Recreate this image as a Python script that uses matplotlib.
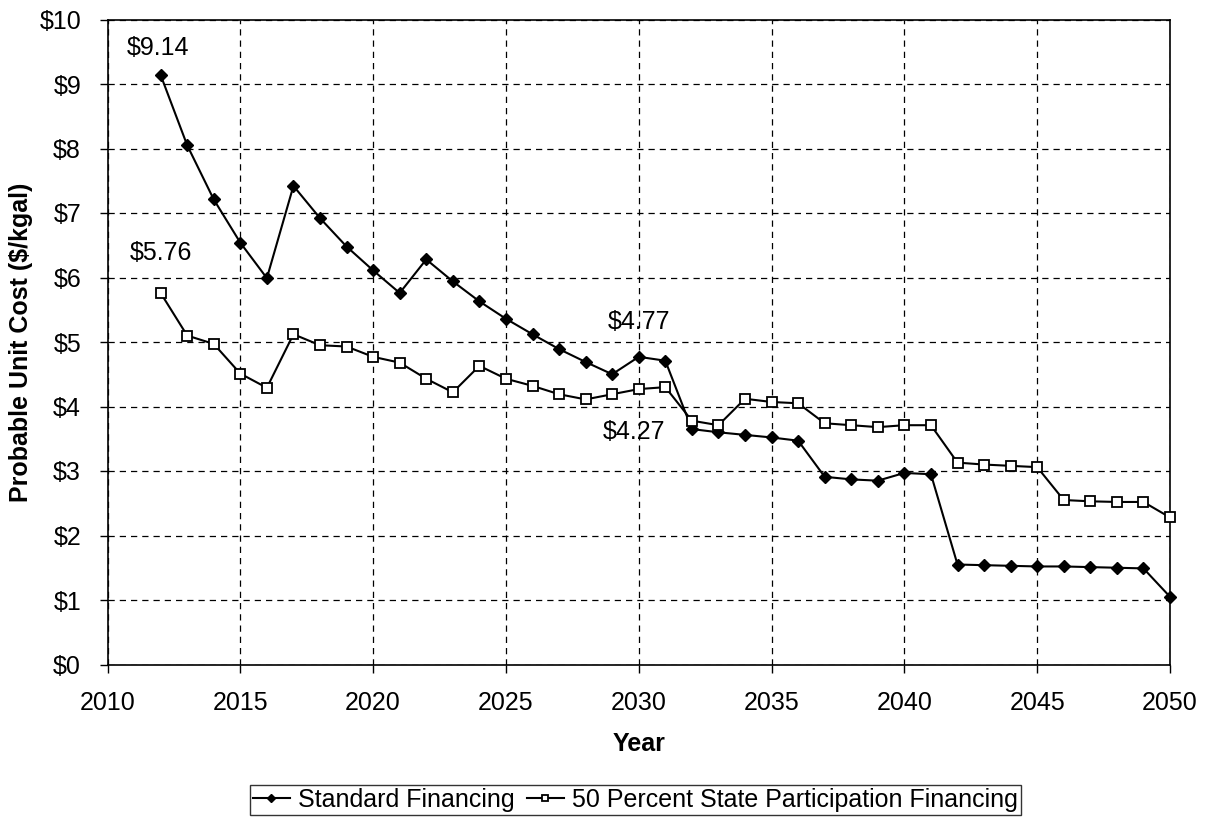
import matplotlib
matplotlib.use("Agg")
import matplotlib.pyplot as plt
from matplotlib.ticker import FuncFormatter

plt.rcParams['font.family'] = ['Liberation Sans', 'DejaVu Sans']

years = list(range(2012, 2051))
standard = [9.14, 8.05, 7.21, 6.54, 5.99, 7.42, 6.92, 6.48, 6.11, 5.76,
            6.28, 5.94, 5.63, 5.36, 5.12, 4.89, 4.69, 4.50, 4.77, 4.71,
            3.65, 3.60, 3.56, 3.52, 3.47, 2.91, 2.87, 2.85, 2.97, 2.95,
            1.55, 1.54, 1.53, 1.52, 1.52, 1.51, 1.50, 1.49, 1.05]
state50 = [5.76, 5.10, 4.97, 4.51, 4.29, 5.12, 4.95, 4.93, 4.77, 4.68,
           4.43, 4.22, 4.63, 4.43, 4.32, 4.19, 4.11, 4.19, 4.27, 4.30,
           3.78, 3.71, 4.12, 4.07, 4.05, 3.74, 3.71, 3.68, 3.71, 3.71,
           3.13, 3.10, 3.08, 3.06, 2.55, 2.53, 2.52, 2.52, 2.28]
labels = ["Standard Financing", "50 Percent State Participation Financing"]
annotations = [(2012, 9.14, "$9.14"), (2012, 5.76, "$5.76"),
               (2030, 4.77, "$4.77"), (2030, 4.27, "$4.27")]

W, H = 1206, 819
fig = plt.figure(figsize=(W / 100, H / 100), dpi=100)
L, R, T, B = 107.5, 1170, 19.5, 664.5
ax = fig.add_axes([L / W, 1 - B / H, (R - L) / W, (B - T) / H])

l1, = ax.plot(years, standard, color='black', lw=1.5, marker='D', ms=6.5,
              markerfacecolor='black', markeredgewidth=1, label=labels[0],
              clip_on=False, zorder=3)
l2, = ax.plot(years, state50, color='black', lw=1.5, marker='s', ms=6.5,
              markerfacecolor='white', markeredgewidth=1.3, label=labels[1],
              clip_on=False, zorder=3)

ax.set_xlim(2010, 2050)
ax.set_ylim(0, 10)
ax.set_xticks(range(2010, 2051, 5))
ax.set_yticks(range(0, 11))
ax.yaxis.set_major_formatter(FuncFormatter(lambda v, p: f"${int(v)}"))
ax.grid(True, color='black', linestyle=(0, (5, 4)), lw=0.9)
ax.set_axisbelow(True)
for s in ax.spines.values():
    s.set_color('black')
    s.set_linewidth(1.2)
ax.tick_params(axis='both', labelsize=18, length=6, width=1, colors='black')
ax.tick_params(axis='x', pad=13)
ax.tick_params(axis='y', pad=13)

fig.text(((L + R) / 2) / W, 1 - 744 / H, "Year", fontsize=18, fontweight='bold',
         ha='center', va='center')
fig.text(21 / W, 1 - ((T + B) / 2) / H, "Probable Unit Cost ($/kgal)", fontsize=18,
         fontweight='bold', rotation=90, ha='center', va='center')

offsets = {"$9.14": (-0.08, 0.42), "$5.76": (0.03, 0.62), "$4.77": (0.01, 0.54), "$4.27": (-0.16, -0.67)}
for x, y, t in annotations:
    dx, dy = offsets[t]
    ax.text(x + dx, y + dy, t, fontsize=18, ha='center', va='center')

leg = fig.legend(handles=[l1, l2], labels=labels, loc='center',
                 bbox_to_anchor=(635 / W, 1 - 800 / H), ncol=2, frameon=True,
                 fancybox=False, edgecolor='black', fontsize=18,
                 handlelength=1.5, handletextpad=0.3, columnspacing=0.5,
                 borderpad=0.12, borderaxespad=0, markerscale=0.6)
leg.get_frame().set_linewidth(1.0)

fig.savefig("out.png", dpi=100)
